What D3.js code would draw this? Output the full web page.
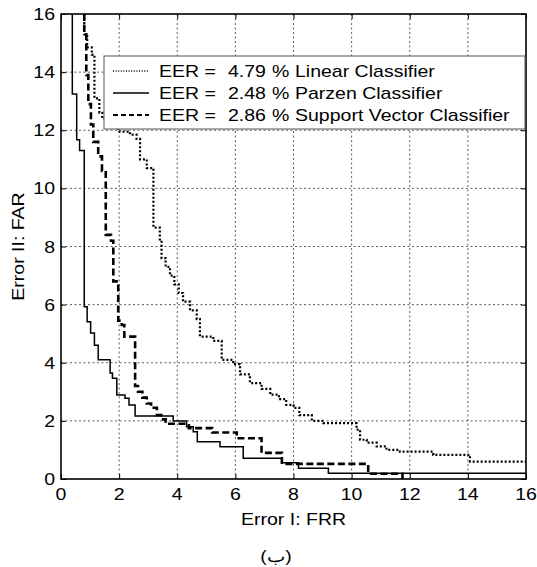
<!DOCTYPE html>
<html>
<head>
<meta charset="utf-8">
<script src="https://cdn.jsdelivr.net/npm/d3@7"></script>
<style>
  body { margin: 0; background: #fff; }
  svg { display: block; }
  text { font-family: "Liberation Sans", Arial, sans-serif; fill: #000; }
</style>
</head>
<body>
<div id="chart"></div>
<script>
// tick values
var xTicks = [0, 2, 4, 6, 8, 10, 12, 14, 16];
var yTicks = [0, 2, 4, 6, 8, 10, 12, 14, 16];

// legend entries
var classifiers = ["Linear Classifier", "Parzen Classifier", "Support Vector Classifier"];
var eers = ["4.79", "2.48", "2.86"];

// DET curves (step points: FRR where a level ends, FAR of that level)
var linearFRR = [0.80, 0.90, 1.06, 1.15, 1.32, 1.42, 1.97, 2.37, 2.60, 2.72, 2.95, 3.18, 3.40, 3.46, 3.60, 3.75, 3.90, 4.05, 4.20, 4.44, 4.67, 4.78, 5.24, 5.53, 5.93, 6.16, 6.50, 6.90, 7.20, 7.50, 7.75, 8.00, 8.20, 8.63, 9.03, 10.17, 10.29, 10.52, 10.86, 11.20, 11.66, 12.81, 14.07, 16];
var linearFAR = [16, 15.3, 14.85, 14.6, 13.1, 12.6, 12.4, 11.95, 11.85, 11.7, 11.0, 10.7, 8.65, 8.2, 7.6, 7.3, 7.0, 6.7, 6.4, 6.1, 5.8, 5.5, 4.9, 4.75, 4.1, 3.95, 3.6, 3.3, 3.1, 2.9, 2.75, 2.55, 2.45, 2.2, 2.0, 1.92, 1.7, 1.35, 1.25, 1.12, 1.0, 0.94, 0.83, 0.6];

var parzenFRR = [0.39, 0.54, 0.64, 0.80, 0.90, 1.02, 1.15, 1.28, 1.69, 1.77, 1.92, 2.20, 2.34, 2.55, 3.86, 4.32, 4.55, 4.69, 5.47, 6.27, 7.60, 8.17, 9.20, 16];
var parzenFAR = [16, 13.25, 11.67, 11.3, 5.93, 5.41, 5.02, 4.6, 4.1, 3.65, 3.47, 2.89, 2.78, 2.55, 2.17, 2.0, 1.8, 1.63, 1.28, 1.11, 0.71, 0.56, 0.37, 0.2];

var svcFRR = [0.80, 0.87, 0.94, 1.03, 1.11, 1.28, 1.41, 1.54, 1.72, 1.80, 1.97, 2.09, 2.18, 2.55, 2.65, 2.80, 2.95, 3.10, 3.30, 3.45, 3.60, 4.40, 5.20, 6.05, 6.90, 7.60, 10.57, 11.75, 11.75];
var svcFAR = [16, 15.3, 13.9, 12.9, 12.2, 11.6, 11.1, 10.6, 8.4, 8.2, 6.8, 5.45, 5.3, 4.9, 3.2, 3.0, 2.8, 2.6, 2.45, 2.2, 2.05, 1.9, 1.75, 1.6, 1.4, 0.9, 0.52, 0.18, 0];

var W = 537, H = 567;
var plot = {left: 61, right: 526, top: 14, bottom: 479};
var sx = 1.22; // the fonts in the picture are drawn wide

var svg = d3.select('#chart').append('svg')
    .attr('width', W)
    .attr('height', H);

var x = d3.scaleLinear().domain([0, 16]).range([plot.left, plot.right]);
var y = d3.scaleLinear().domain([0, 16]).range([plot.bottom, plot.top]);

function label(txt, px, py, anchor, size, rot) {
    var tr = 'translate(' + px + ',' + py + ')' + (rot ? ' rotate(' + rot + ')' : '') + ' scale(' + sx + ',1)';
    return svg.append('text')
        .attr('transform', tr)
        .attr('text-anchor', anchor)
        .style('font-size', size + 'px')
        .text(txt);
}

/* grid */
var grid = svg.append('g').attr('class', 'grid')
    .attr('stroke', '#333')
    .attr('stroke-width', 0.8)
    .attr('stroke-dasharray', '2,2.5');
grid.selectAll('.gx').data(xTicks.slice(1, -1)).enter().append('line')
    .attr('x1', d => x(d)).attr('x2', d => x(d))
    .attr('y1', plot.top).attr('y2', plot.bottom);
grid.selectAll('.gy').data(yTicks.slice(1, -1)).enter().append('line')
    .attr('y1', d => y(d)).attr('y2', d => y(d))
    .attr('x1', plot.left).attr('x2', plot.right);

/* curves */
svg.append('clipPath').attr('id', 'clip').append('rect')
    .attr('x', plot.left).attr('y', plot.top)
    .attr('width', plot.right - plot.left).attr('height', plot.bottom - plot.top);

var line = d3.line()
    .x(d => x(d[0]))
    .y(d => y(d[1]))
    .curve(d3.curveStepBefore);

var series = [
    {frr: linearFRR, far: linearFAR, width: 2.2, dash: '2,2'},
    {frr: parzenFRR, far: parzenFAR, width: 1.5, dash: null},
    {frr: svcFRR, far: svcFAR, width: 2.6, dash: '7,3.5'}
];

var curves = svg.append('g').attr('clip-path', 'url(#clip)');
series.forEach(function(s) {
    curves.append('path')
        .datum(d3.zip(s.frr, s.far))
        .attr('fill', 'none')
        .attr('stroke', '#000')
        .attr('stroke-width', s.width)
        .attr('stroke-dasharray', s.dash)
        .attr('d', line);
});

/* axes: ticks pointing inward on all four sides */
var bottomAxis = d3.axisBottom(x).tickValues(xTicks).tickSizeInner(-5).tickSizeOuter(0).tickFormat('');
var topAxis = d3.axisTop(x).tickValues(xTicks).tickSizeInner(-5).tickSizeOuter(0).tickFormat('');
var leftAxis = d3.axisLeft(y).tickValues(yTicks).tickSizeInner(-5).tickSizeOuter(0).tickFormat('');
var rightAxis = d3.axisRight(y).tickValues(yTicks).tickSizeInner(-5).tickSizeOuter(0).tickFormat('');

[[bottomAxis, 'translate(0,' + plot.bottom + ')'],
 [topAxis, 'translate(0,' + plot.top + ')'],
 [leftAxis, 'translate(' + plot.left + ',0)'],
 [rightAxis, 'translate(' + plot.right + ',0)']].forEach(function(a) {
    var g = svg.append('g').attr('transform', a[1]).call(a[0]);
    g.select('.domain').remove();
    g.selectAll('line').attr('stroke', '#000').attr('stroke-width', 1);
});

svg.append('rect')
    .attr('x', plot.left).attr('y', plot.top)
    .attr('width', plot.right - plot.left).attr('height', plot.bottom - plot.top)
    .attr('fill', 'none')
    .attr('stroke', '#000')
    .attr('stroke-width', 1.6);

/* tick labels */
xTicks.forEach(function(t) { label(t, x(t), plot.bottom + 21, 'middle', 16); });
yTicks.forEach(function(t) { label(t, plot.left - 6, y(t) + 6, 'end', 16); });

/* legend */
var leg = {x: 104, y: 56, w: 421, h: 73};
svg.append('rect')
    .attr('x', leg.x).attr('y', leg.y)
    .attr('width', leg.w).attr('height', leg.h)
    .attr('fill', '#fff')
    .attr('stroke', '#555')
    .attr('stroke-width', 1);

var legendStyle = [
    {width: 1.4, dash: '1,1.6'},
    {width: 1.5, dash: null},
    {width: 2, dash: '5,3'}
];
classifiers.forEach(function(name, i) {
    var cy = leg.y + 15 + i * 22;
    svg.append('line')
        .attr('x1', leg.x + 9).attr('x2', leg.x + 45)
        .attr('y1', cy).attr('y2', cy)
        .attr('stroke', '#000')
        .attr('stroke-width', legendStyle[i].width)
        .attr('stroke-dasharray', legendStyle[i].dash);
    label('EER =', 159, cy + 6, 'start', 16);
    label(eers[i], 228, cy + 6, 'start', 16);
    label('%', 272, cy + 6, 'start', 16);
    label(name, 295, cy + 6, 'start', 16);
});

/* axis titles and caption */
label('Error I: FRR', (plot.left + plot.right) / 2, 525, 'middle', 16);
label('Error II: FAR', 0, 0, 'middle', 16)
    .attr('transform', 'translate(24,' + ((plot.top + plot.bottom) / 2) + ') rotate(-90) scale(' + sx + ',1)');
label('(ب)', 276, 562, 'middle', 16);
</script>
</body>
</html>
